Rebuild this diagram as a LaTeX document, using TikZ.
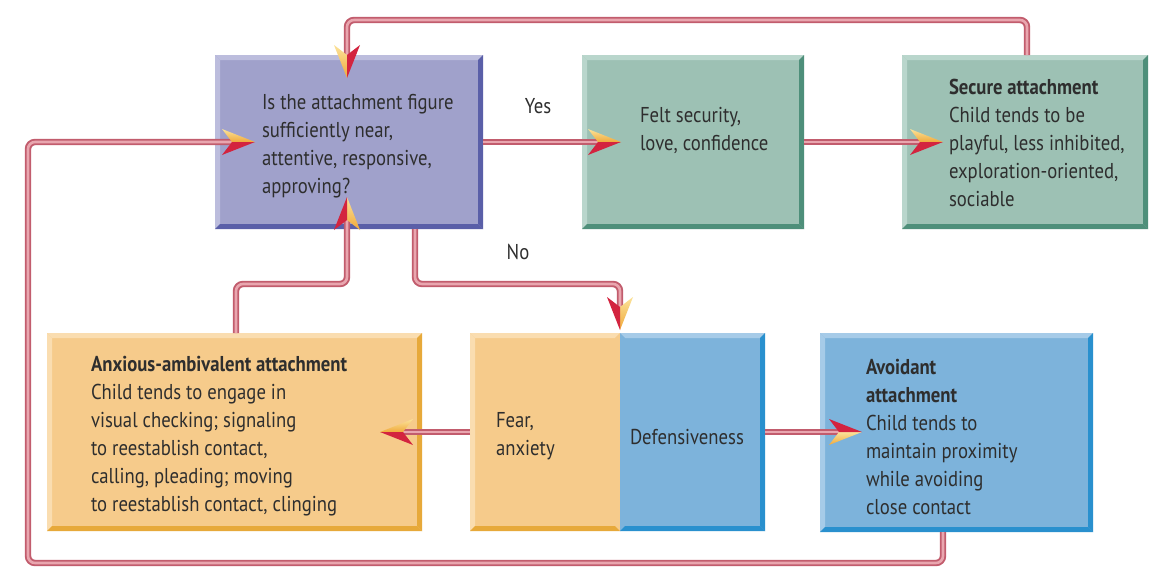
\documentclass[tikz,border=0pt]{standalone}
\usepackage{fontspec}
\setmainfont{PT Sans}[FakeStretch=0.87]
\usetikzlibrary{calc}
\definecolor{qfill}{HTML}{A0A1CB}\definecolor{qlight}{HTML}{BCBDDD}\definecolor{qdark}{HTML}{5A5FA8}
\definecolor{gfill}{HTML}{9DC1B4}\definecolor{glight}{HTML}{B9D6CC}\definecolor{gdark}{HTML}{4E8F7A}
\definecolor{ofill}{HTML}{F6CB8B}\definecolor{olight}{HTML}{FADDB0}\definecolor{odark}{HTML}{E7A93A}
\definecolor{bfill}{HTML}{7DB3DB}\definecolor{blight}{HTML}{A6CBE8}\definecolor{bdark}{HTML}{2990CE}
\definecolor{lineout}{HTML}{C25C6D}\definecolor{linein}{HTML}{E9A6AF}
\definecolor{ared}{HTML}{D3243F}\definecolor{ayl1}{HTML}{FBE39A}\definecolor{ayl2}{HTML}{F0A93A}
\definecolor{textc}{HTML}{2E2E2E}
\newcommand\bev[5]{%
  \fill[#2] (#1.north west) -- (#1.north east) -- ($(#1.north east)+(-5,5)$) -- ($(#1.north west)+(5,5)$) -- cycle;
  \fill[#3] (#1.north west) -- ($(#1.north west)+(5,5)$) -- ($(#1.south west)+(5,-5)$) -- (#1.south west) -- cycle;
  \fill[#4] (#1.north east) -- (#1.south east) -- ($(#1.south east)+(-5,-5)$) -- ($(#1.north east)+(-5,5)$) -- cycle;
  \fill[#5] (#1.south west) -- (#1.south east) -- ($(#1.south east)+(-5,-5)$) -- ($(#1.south west)+(5,-5)$) -- cycle;}
\newcommand\ahd[3]{\begin{scope}[shift={(#1)}, rotate=#2, yscale=#3]
  \shade[top color=ayl1, bottom color=ayl2] (0,0) -- (-33,-13) -- (-23,0) -- cycle;
  \fill[ared] (0,0) -- (-23,0) -- (-33,13) -- cycle;
\end{scope}}
\newcommand\ml[1]{\begin{tabular}[t]{@{}l@{}}#1\end{tabular}}
\begin{document}
\begin{tikzpicture}[x=1pt,y=-1pt,
  box/.style={inner sep=0pt, outer sep=0pt, draw=none},
  txt/.style={inner sep=0pt, outer sep=0pt, font=\fontsize{21.5}{28}\selectfont, text=textc, anchor=base west},
  conn/.style={draw=lineout, double=linein, double distance=2.6pt, line width=1.9pt, rounded corners=7pt}]
\useasboundingbox (0,0) rectangle (1165,582);
\fill[white] (0,0) rectangle (1165,582);
% boxes
\node[box, fill=qfill, minimum width=268, minimum height=174] (q) at (349,142) {};
\node[box, fill=gfill, minimum width=222, minimum height=174] (f) at (693,142) {};
\node[box, fill=gfill, minimum width=246, minimum height=174] (s) at (1025,142) {};
\node[box, fill=ofill, minimum width=375, minimum height=198] (a) at (234.5,432) {};
\node[box, fill=ofill, minimum width=150, minimum height=198] (fe) at (545,432) {};
\node[box, fill=bfill, minimum width=145, minimum height=198] (de) at (692.5,432) {};
\node[box, fill=bfill, minimum width=273, minimum height=199] (v) at (956.5,432.5) {};
\bev{q}{qlight}{qlight}{qdark}{qdark}
\bev{f}{glight}{glight}{gdark}{gdark}
\bev{s}{glight}{glight}{gdark}{gdark}
\bev{a}{olight}{olight}{odark}{odark}
\bev{fe}{olight}{olight}{ofill}{odark}
\bev{de}{blight}{bfill}{bdark}{bdark}
\bev{v}{blight}{blight}{bdark}{bdark}
% arrow tips
\coordinate (tq1) at (347,78);
\coordinate (tq2) at (255,142);
\coordinate (tq3) at (347,197);
\coordinate (tf) at (621,142);
\coordinate (ts) at (943,142);
\coordinate (td) at (620,330);
\coordinate (ta) at (380,432);
\coordinate (tv) at (862,432);
% connectors
\draw[conn] ([xshift=2pt]s.north) -- ++(0,-35) -| ($(tq1)+(0,-22)$);
\draw[conn] ([xshift=-13.5pt]v.south) |- (28,563) |- ($(tq2)+(-22,0)$);
\draw[conn] (q.east) -- ($(tf)+(-22,0)$);
\draw[conn] (f.east) -- ($(ts)+(-22,0)$);
\draw[conn] ([xshift=66pt]q.south) |- (620,284) -- ($(td)+(0,-22)$);
\draw[conn] (fe.west) -- ($(ta)+(22,0)$);
\draw[conn] (de.east) -- ($(tv)+(-22,0)$);
\draw[conn] ([xshift=1.5pt]a.north) |- (347,284) -- ($(tq3)+(0,22)$);
% arrowheads
\ahd{tq1}{-90}{-1}
\ahd{tq2}{0}{1}
\ahd{tq3}{90}{-1}
\ahd{tf}{0}{1}
\ahd{ts}{0}{1}
\ahd{td}{-90}{1}
\ahd{ta}{180}{-1}
\ahd{tv}{0}{-1}
% texts
\node[txt] (qt) at (262,109) {\ml{Is the attachment figure\\sufficiently near,\\attentive, responsive,\\approving?}};
\node[txt, anchor=base] (yes) at (538,113) {Yes};
\node[txt] (ft) at (640,122) {\ml{Felt security,\\love, confidence}};
\node[txt] (st) at (949,94) {\ml{\textbf{Secure attachment}\\Child tends to be\\playful, less inhibited,\\exploration-oriented,\\sociable}};
\node[txt, anchor=base] (no) at (518,259) {No};
\node[txt] (at) at (91,371) {\ml{\textbf{Anxious-ambivalent attachment}\\Child tends to engage in\\visual checking; signaling\\to reestablish contact,\\calling, pleading; moving\\to reestablish contact, clinging}};
\node[txt] (fet) at (496,427) {\ml{Fear,\\anxiety}};
\node[txt] (det) at (630,444) {Defensiveness};
\node[txt] (vt) at (866,374) {\ml{\textbf{Avoidant}\\\textbf{attachment}\\Child tends to\\maintain proximity\\while avoiding\\close contact}};
\end{tikzpicture}
\end{document}
